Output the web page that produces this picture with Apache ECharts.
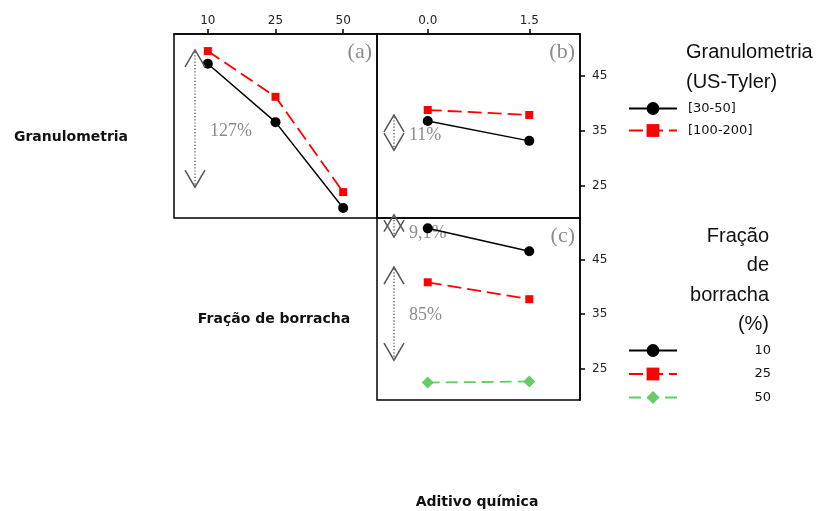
<!DOCTYPE html>
<html>
<head>
<meta charset="utf-8">
<script src="https://cdn.jsdelivr.net/npm/echarts@6/dist/echarts.min.js"></script>
<style>
  html, body { margin: 0; padding: 0; background: #fff; }
  #chart { width: 818px; height: 511px; }
</style>
</head>
<body>
<div id="chart"></div>
<script>
// Categories on the top axes
const granCats = ['10', '25', '50'];
const aditivoCats = ['0.0', '1.5'];

// (a) Fração de borracha (%) vs response, one line per granulometria
const gran3050A = [47.2, 36.6, 21.0];
const gran100200A = [49.5, 41.2, 23.9];

// (b) Aditivo químico vs response, one line per granulometria
const gran3050B = [36.8, 33.2];
const gran100200B = [38.8, 37.9];

// (c) Aditivo químico vs response, one line per fração de borracha
const frac10C = [50.7, 46.5];
const frac25C = [40.8, 37.7];
const frac50C = [22.4, 22.6];

// Right-hand axis tick labels
const rightTicks = [25, 35, 45];

// Range-of-effect markers: value span of the arrow and the label it carries
const spanPanels = [0, 1, 2, 2];
const spanFrom = [49.7, 37.9, 53.2, 43.6];
const spanTo = [24.8, 31.5, 49.1, 26.5];
const spanText = ['127%', '11%', '9,1%', '85%'];
const spanTextAt = [35.0, 34.3, 49.8, 34.8];

const panelLetters = ['(a)', '(b)', '(c)'];

const Y_MIN = 19.2, Y_MAX = 52.6;
const grids = [
  { left: 174, top: 34, width: 203, height: 184 },
  { left: 377, top: 34, width: 203, height: 184 },
  { left: 377, top: 218, width: 203, height: 182 }
];
const arrowOffset = [21, 17, 17];

const BLACK = '#000000', RED = '#ff0000', GREEN = '#66cc66', GRAY = '#8c8c8c';
const small = { fontFamily: 'DejaVu Sans', fontSize: 12, color: '#222' };

const chart = echarts.init(document.getElementById('chart'));

function topAxis(gi, cats) {
  return {
    gridIndex: gi, type: 'category', position: 'top', data: cats, boundaryGap: true,
    axisLine: { show: true, lineStyle: { color: BLACK, width: 1.5 } },
    axisTick: { show: true, alignWithLabel: true, length: 5, lineStyle: { color: BLACK, width: 1.5 } },
    axisLabel: Object.assign({ margin: 7 }, small),
    splitLine: { show: false }
  };
}
function rightAxis(gi) {
  return {
    gridIndex: gi, type: 'value', position: 'right', min: Y_MIN, max: Y_MAX,
    axisLine: { show: true, lineStyle: { color: BLACK, width: 1.5 } },
    axisTick: { show: true, length: 5, customValues: rightTicks, lineStyle: { color: BLACK, width: 1.5 } },
    axisLabel: Object.assign({ margin: 12, customValues: rightTicks }, small),
    splitLine: { show: false }
  };
}
function lineSeries(name, gi, data, kind) {
  const s = {
    type: 'line', name: name, xAxisIndex: gi, yAxisIndex: gi, data: data,
    animation: false, z: 3
  };
  if (kind === 'black') {
    Object.assign(s, { symbol: 'circle', symbolSize: 10, itemStyle: { color: BLACK },
      lineStyle: { color: BLACK, width: 1.5 } });
  } else if (kind === 'red') {
    Object.assign(s, { symbol: 'rect', symbolSize: 8, itemStyle: { color: RED },
      lineStyle: { color: RED, width: 1.8, type: [14, 6] } });
  } else {
    Object.assign(s, { symbol: 'diamond', symbolSize: 12, itemStyle: { color: GREEN },
      lineStyle: { color: GREEN, width: 1.8, type: [12, 6] } });
  }
  return s;
}

chart.setOption({
  animation: false,
  backgroundColor: '#fff',
  grid: grids.map(g => Object.assign({ show: true, borderColor: BLACK, borderWidth: 1.5, backgroundColor: 'transparent' }, g)),
  xAxis: [
    topAxis(0, granCats),
    topAxis(1, aditivoCats),
    { gridIndex: 2, type: 'category', data: aditivoCats, boundaryGap: true, show: false }
  ],
  yAxis: [
    { gridIndex: 0, type: 'value', min: Y_MIN, max: Y_MAX, show: false },
    rightAxis(1),
    rightAxis(2)
  ],
  legend: [
    {
      left: 628, top: 102, padding: 0, orient: 'vertical', itemWidth: 48, itemHeight: 16, itemGap: 9,
      data: ['[30-50]', '[100-200]'],
      formatter: '{t|{name}}',
      textStyle: { rich: { t: { fontFamily: 'DejaVu Sans', fontSize: 13, color: '#111', padding: [0, 0, 0, 6] } } }
    },
    {
      left: 628, top: 344, padding: 0, orient: 'vertical', itemWidth: 48, itemHeight: 16, itemGap: 10.5,
      data: ['10', '25', '50'],
      formatter: '{r|{name}}',
      textStyle: { rich: { r: { fontFamily: 'DejaVu Sans', fontSize: 13, color: '#111', width: 89, align: 'right' } } }
    }
  ],
  series: [
    lineSeries('[30-50]', 0, gran3050A, 'black'),
    lineSeries('[100-200]', 0, gran100200A, 'red'),
    lineSeries('[30-50]', 1, gran3050B, 'black'),
    lineSeries('[100-200]', 1, gran100200B, 'red'),
    lineSeries('10', 2, frac10C, 'black'),
    lineSeries('25', 2, frac25C, 'red'),
    lineSeries('50', 2, frac50C, 'green')
  ]
});

// Annotations placed through the axes' own pixel conversion
const graphics = [];
const CH_W = 10, CH_H = 17;
const arrowStyle = { stroke: '#555', lineWidth: 1.5, fill: null };

spanPanels.forEach((p, i) => {
  const g = grids[p];
  const x = g.left + arrowOffset[p];
  const yTop = chart.convertToPixel({ yAxisIndex: p }, spanFrom[i]);
  const yBot = chart.convertToPixel({ yAxisIndex: p }, spanTo[i]);
  const yTxt = chart.convertToPixel({ yAxisIndex: p }, spanTextAt[i]);
  graphics.push({
    type: 'line', z: 5,
    shape: { x1: x, y1: yTop + 2, x2: x, y2: yBot - 2 },
    style: { stroke: '#666', lineWidth: 1.5, lineDash: [1.2, 2] }
  });
  graphics.push({
    type: 'polyline', z: 5,
    shape: { points: [[x - CH_W, yTop + CH_H], [x, yTop], [x + CH_W, yTop + CH_H]] },
    style: arrowStyle
  });
  graphics.push({
    type: 'polyline', z: 5,
    shape: { points: [[x - CH_W, yBot - CH_H], [x, yBot], [x + CH_W, yBot - CH_H]] },
    style: arrowStyle
  });
  graphics.push({
    type: 'text', z: 2, x: x + 15, y: yTxt,
    style: { text: spanText[i], fill: GRAY, font: '18px "Liberation Serif"', verticalAlign: 'middle', align: 'left' }
  });
});

panelLetters.forEach((t, p) => {
  const g = grids[p];
  graphics.push({
    type: 'text', z: 5, x: g.left + g.width - 5, y: g.top + 18,
    style: { text: t, fill: GRAY, font: '22px "Liberation Serif"', align: 'right', verticalAlign: 'middle' }
  });
});

// Factor names
const factorFont = 'bold 14px "DejaVu Sans"';
graphics.push({ type: 'text', x: 71, y: 137, style: { text: 'Granulometria', font: factorFont, fill: '#111', align: 'center', verticalAlign: 'middle' } });
graphics.push({ type: 'text', x: 274, y: 319, style: { text: 'Fração de borracha', font: factorFont, fill: '#111', align: 'center', verticalAlign: 'middle' } });
graphics.push({ type: 'text', x: 477, y: 502, style: { text: 'Aditivo química', font: factorFont, fill: '#111', align: 'center', verticalAlign: 'middle' } });

// Legend titles
graphics.push({ type: 'text', x: 686, y: 52, style: { text: 'Granulometria', font: '20px "Liberation Sans"', fill: '#111', verticalAlign: 'middle' } });
graphics.push({ type: 'text', x: 686, y: 82, style: { text: '(US-Tyler)', font: '20px "Liberation Sans"', fill: '#111', verticalAlign: 'middle' } });
['Fração', 'de', 'borracha', '(%)'].forEach((t, i) => {
  graphics.push({ type: 'text', x: 769, y: 236 + i * 29.6, style: { text: t, font: '20px "Liberation Sans"', fill: '#111', align: 'right', verticalAlign: 'middle' } });
});

chart.setOption({ graphic: { elements: graphics } });
</script>
</body>
</html>
